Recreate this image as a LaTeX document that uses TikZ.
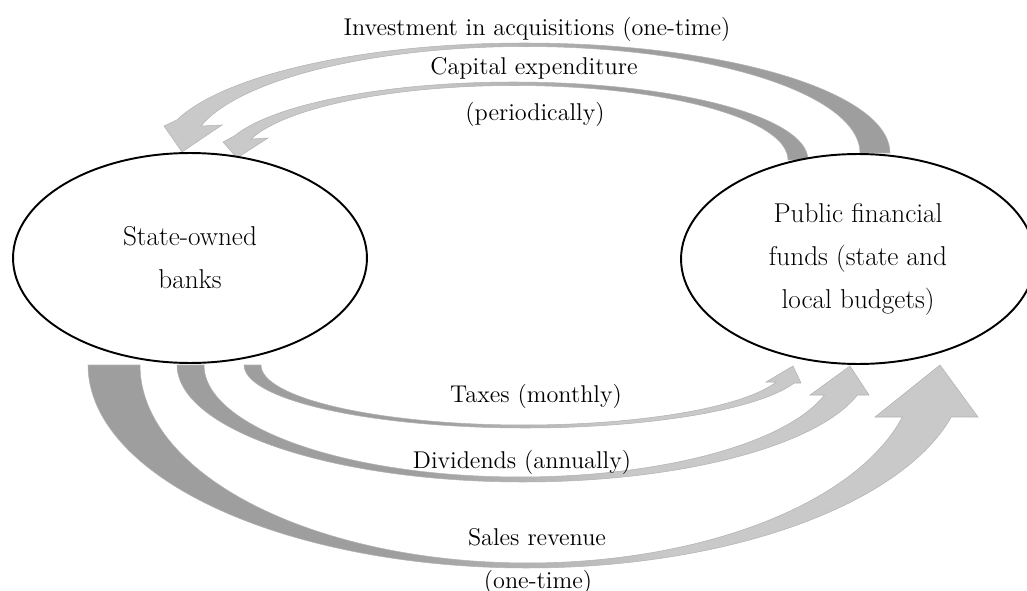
\documentclass[tikz,border=0pt]{standalone}
\usepackage{tikz}
\usetikzlibrary{shapes.geometric,backgrounds}

\definecolor{banddark}{gray}{0.62}
\definecolor{bandlight}{gray}{0.79}
% dark tail, light head; the change sits in the middle of the arrow
\pgfdeclarehorizontalshading{tailleft}{100bp}{color(0bp)=(banddark); color(42bp)=(banddark);
  color(58bp)=(bandlight); color(100bp)=(bandlight)}
\pgfdeclarehorizontalshading{tailright}{100bp}{color(0bp)=(bandlight); color(42bp)=(bandlight);
  color(58bp)=(banddark); color(100bp)=(banddark)}

\begin{document}
\begin{tikzpicture}[
  x=0.02cm, y=-0.02cm,
  every node/.style={font=\fontsize{13.8}{24.5}\selectfont, align=center},
  party/.style={ellipse, draw, line width=1.1pt, fill=white, minimum width=7.08cm, minimum height=4.2cm,
    inner sep=0pt, font=\fontsize{15.5}{24.5}\selectfont},
  flowlabel/.style={inner sep=1pt},
  band/.style={draw=black!30, line width=0.3pt},
  leftward/.style={band, shading=tailright},
  rightward/.style={band, shading=tailleft},
  bandcurve/.style={samples=60, variable=\t, smooth}
]
\useasboundingbox (0,0) rectangle (1027,591);

% The two parties
\node[party] (banks) at (190,258) {State-owned\\banks};
\node[party] (funds) at (858,259) {Public financial\\funds (state and\\local budgets)};

% Flows from the public funds to the banks (over the top)
\node[flowlabel] (invest) at (537,29) {Investment in acquisitions (one-time)};
\node[flowlabel] (capex) at (534,68) {Capital expenditure};
\node[flowlabel] (capexfreq) at (535,114) {(periodically)};

% Flows from the banks to the public funds (underneath)
\node[flowlabel] (taxes) at (536,396) {Taxes (monthly)};
\node[flowlabel] (dividends) at (522,462) {Dividends (annually)};
\node[flowlabel] (sales) at (537,537) {Sales revenue};
\node[flowlabel] (salesfreq) at (538,582) {(one-time)};

% Curved block arrows, behind the ellipses
\begin{scope}[on background layer]
% investment in acquisitions
\shadedraw[leftward] plot[bandcurve, domain=0:162.54] ({525+365*cos(\t)},{153-110*sin(\t)})
  -- (164,126) -- (182,152) -- (222,125)
  -- plot[bandcurve, domain=165.31:0] ({525+335*cos(\t)},{153-106.5*sin(\t)}) -- cycle;
% capital expenditure
\shadedraw[leftward] plot[bandcurve, domain=0:162.08] ({514+294*cos(\t)},{160-78*sin(\t)})
  -- (223,142) -- (237,158) -- (268,138)
  -- plot[bandcurve, domain=163.63:0] ({514+274*cos(\t)},{160-74.5*sin(\t)}) -- cycle;
% taxes
\shadedraw[rightward] plot[bandcurve, domain=180:16.6] ({525+281*cos(\t)},{365+63*sin(\t)})
  -- (801,383) -- (793,366) -- (766,382)
  -- plot[bandcurve, domain=16.46:180] ({524+263*cos(\t)},{365+60*sin(\t)}) -- cycle;
% dividends
\shadedraw[rightward] plot[bandcurve, domain=180:14.86] ({523+346*cos(\t)},{365+117*sin(\t)})
  -- (869,395) -- (850,366) -- (810,395)
  -- plot[bandcurve, domain=15.54:180] ({520+316*cos(\t)},{365+112*sin(\t)}) -- cycle;
% sales revenue
\shadedraw[rightward] plot[bandcurve, domain=180:14.84] ({527+439*cos(\t)},{365+203*sin(\t)})
  -- (978,417) -- (940,365) -- (875,417)
  -- plot[bandcurve, domain=15.23:180] ({528+388*cos(\t)},{365+198*sin(\t)}) -- cycle;
\end{scope}

\end{tikzpicture}
\end{document}
